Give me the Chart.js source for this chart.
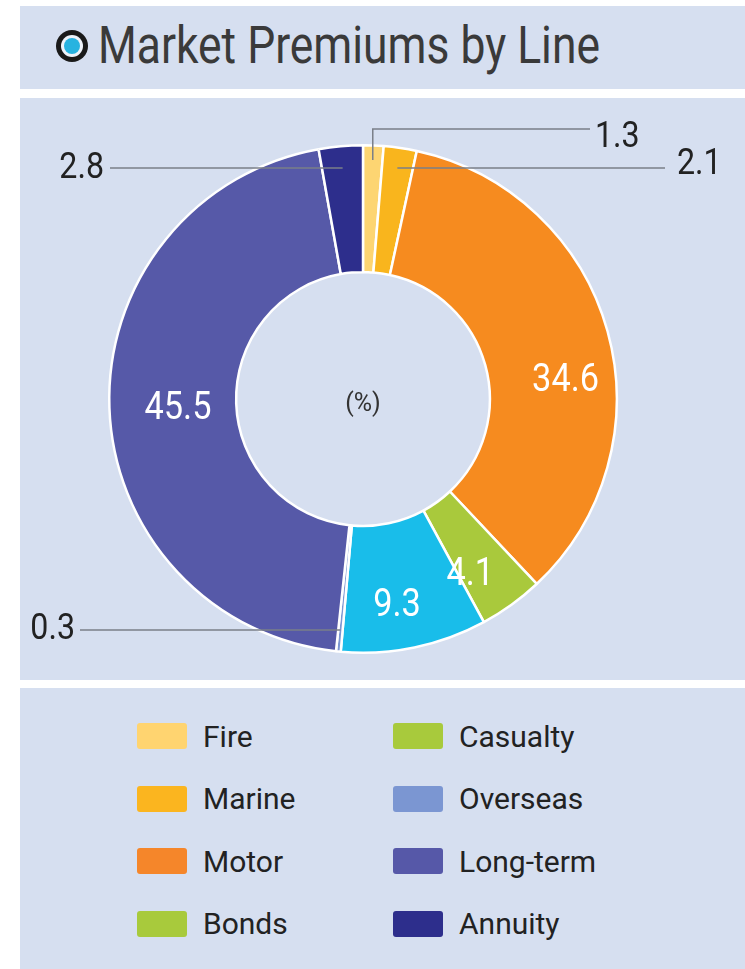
<!DOCTYPE html>
<html><head><meta charset="utf-8">
<script src="https://cdn.jsdelivr.net/npm/chart.js@4"></script>
<style>
html,body{margin:0;padding:0;background:#fff;width:745px;height:969px;overflow:hidden;font-family:Roboto,"DejaVu Sans",sans-serif;}
.panel{position:absolute;left:20px;width:725px;background:#d6dff0;}
#titleP{top:6px;height:83px;}
#chartP{top:98px;height:582px;}
#legendP{top:688px;height:281px;}
#icon{position:absolute;left:36px;top:24px;width:32px;height:32px;border-radius:50%;background:#1a1a1a;}
#icon:after{content:"";position:absolute;left:5px;top:5px;width:22px;height:22px;border-radius:50%;background:#eef3fa;}
#icon:before{content:"";position:absolute;left:8px;top:8px;width:16px;height:16px;border-radius:50%;background:#27b3e0;z-index:2;}
#title{position:absolute;left:78px;top:10px;font-size:51px;color:#3a3a3a;white-space:nowrap;transform-origin:0 0;}
.item{position:absolute;height:40px;display:flex;align-items:center;}
.sw{width:50px;height:26px;border-radius:3px;margin-right:16px;}
.lt{font-size:30px;color:#222;}
</style></head>
<body>
<div class="panel" id="titleP"><div id="icon"></div><div id="title">Market Premiums by Line</div></div>
<div class="panel" id="chartP"><canvas id="c"></canvas></div>
<div class="panel" id="legendP"></div>
<script>
const categories = ["Fire","Marine","Motor","Bonds","Casualty","Overseas","Long-term","Annuity"];
const shares = [1.3, 2.1, 34.6, 4.1, 9.3, 0.3, 45.5, 2.8];
const valueLabels = ["1.3","2.1","34.6","4.1","9.3","0.3","45.5","2.8"];
const centerText = "(%)";

const sliceColors = ["#fdd572","#f9b51d","#f68b1f","#a9c93c","#19bdea","#7b96d2","#5659a8","#2d2e8c"];
const legendColors = ["#ffd470","#fbb51f","#f5862a","#a8ca3c","#a8ca3c","#7b96d2","#5658a8","#2d2e8c"];

// fit title width
(function(){
  const t=document.getElementById('title');
  const w=t.getBoundingClientRect().width;
  t.style.transform='scaleX('+(502/w)+')';
})();

// legend (column-first, 2 columns)
const lp=document.getElementById('legendP');
categories.forEach((name,i)=>{
  const col=Math.floor(i/4), row=i%4;
  const d=document.createElement('div');
  d.className='item';
  d.style.left=(117+col*256)+'px';
  d.style.top=(28+row*62.5)+'px';
  d.innerHTML='<div class="sw" style="background:'+legendColors[i]+'"></div><div class="lt">'+name+'</div>';
  lp.appendChild(d);
});

const insideIdx=[2,3,4,6];
const insideNudgeDeg={2:10.5,3:4.5,4:2.4,6:-1.3};
const insideRadiusAdd={2:13,3:16,4:20,6:-5};
// leader specs: dy of anchor from centre, end x offset from centre, label placement
const leaders={
  0:{dy:-239, upTo:-270, endDx:227, lx:232, ly:-261, align:'left'},
  1:{dy:-231, endDx:302, lx:314, ly:-234, align:'left'},
  7:{dy:-231, endDx:-253, lx:-259, ly:-230, align:'right'},
  5:{dy:231, endDx:-283, lx:-288, ly:231, align:'right'}
};

const labelPlugin={
  id:'labels',
  afterDatasetsDraw(chart){
    const ctx=chart.ctx;
    const meta=chart.getDatasetMeta(0);
    ctx.save();
    meta.data.forEach((arc,i)=>{
      const p=arc.getProps(['x','y','startAngle','endAngle','innerRadius','outerRadius'],true);
      const mid=(p.startAngle+p.endAngle)/2;
      if(insideIdx.includes(i)){
        const a=mid+(insideNudgeDeg[i]||0)*Math.PI/180;
        const r=(p.innerRadius+p.outerRadius)/2+(insideRadiusAdd[i]||0);
        ctx.save();
        ctx.translate(p.x+Math.cos(a)*r,p.y+Math.sin(a)*r);
        ctx.scale(0.88,1);
        ctx.fillStyle='#fff';
        ctx.font='39px Roboto, "DejaVu Sans", sans-serif';
        ctx.textAlign='center';ctx.textBaseline='middle';
        ctx.fillText(valueLabels[i],0,0);
        ctx.restore();
      }
      const L=leaders[i];
      if(L){
        const r=L.dy/Math.sin(mid);
        const ax=p.x+Math.cos(mid)*r, ay=p.y+L.dy;
        ctx.strokeStyle='#7a7f88';ctx.lineWidth=1.5;
        ctx.beginPath();ctx.moveTo(ax,ay);
        let yy=ay;
        if(L.upTo!==undefined){yy=p.y+L.upTo;ctx.lineTo(ax,yy);}
        ctx.lineTo(p.x+L.endDx,yy);ctx.stroke();
        ctx.save();
        ctx.translate(p.x+L.lx,p.y+L.ly);
        ctx.scale(0.92,1.08);
        ctx.fillStyle='#222';
        ctx.font='35px Roboto, "DejaVu Sans", sans-serif';
        ctx.textAlign=L.align;ctx.textBaseline='middle';
        ctx.fillText(valueLabels[i],0,0);
        ctx.restore();
      }
    });
    // centre text
    const a0=meta.data[0];
    ctx.fillStyle='#333';ctx.font='25px Roboto, "DejaVu Sans", sans-serif';
    ctx.textAlign='center';ctx.textBaseline='middle';
    ctx.fillText(centerText,a0.x,a0.y+6);
    ctx.restore();
  }
};

new Chart(document.getElementById('c'),{
  type:'doughnut',
  data:{labels:categories,datasets:[{data:shares,backgroundColor:sliceColors,borderColor:'#ffffff',borderWidth:2.5,hoverOffset:0}]},
  options:{
    responsive:true,maintainAspectRatio:false,animation:false,
    cutout:'50%',
    layout:{padding:{left:0,right:39,top:46,bottom:26}},
    plugins:{legend:{display:false},tooltip:{enabled:false},title:{display:false}},
    events:[]
  },
  plugins:[labelPlugin]
});
</script>
</body></html>
